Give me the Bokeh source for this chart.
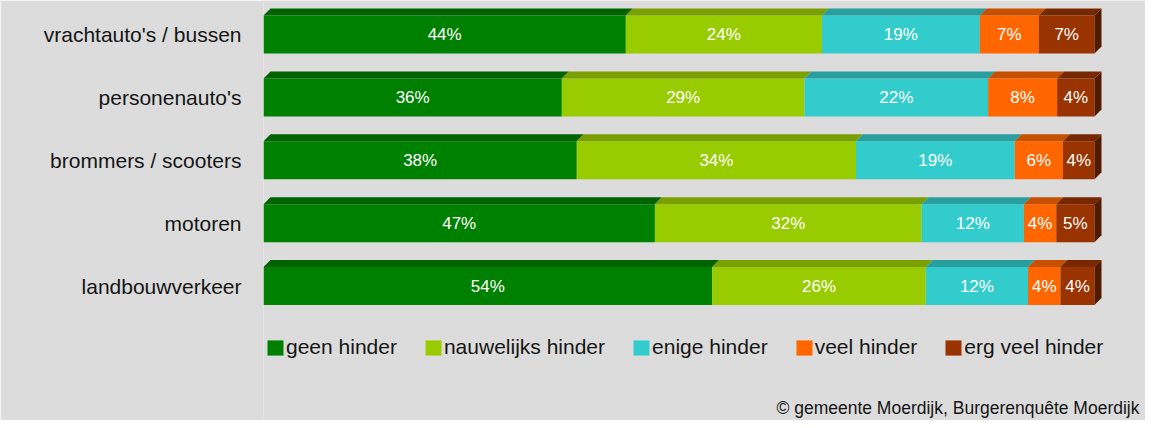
from bokeh.plotting import figure
from bokeh.models import (Range1d, FixedTicker, Label, Legend, LegendItem,
                          ColumnDataSource)
from bokeh.core.properties import value
from bokeh.embed import file_html
from bokeh.resources import INLINE

# ---- data -------------------------------------------------------------
categories = ["vrachtauto's / bussen", "personenauto's", "brommers / scooters",
              "motoren", "landbouwverkeer"]
series = ["geen hinder", "nauwelijks hinder", "enige hinder", "veel hinder",
          "erg veel hinder"]
geen_hinder = [43.6, 35.9, 37.7, 47.1, 54.0]
nauwelijks_hinder = [23.6, 29.2, 33.6, 32.1, 25.7]
enige_hinder = [19.0, 22.1, 19.1, 12.3, 12.3]
veel_hinder = [7.1, 8.3, 5.8, 3.9, 3.9]
erg_veel_hinder = [6.7, 4.5, 3.8, 4.6, 4.1]
labels_pct = [[44, 36, 38, 47, 54], [24, 29, 34, 32, 26], [19, 22, 19, 12, 12],
              [7, 8, 6, 4, 4], [7, 4, 4, 5, 4]]
source_note = "\u00a9 gemeente Moerdijk, Burgerenqu\u00eate Moerdijk"

colors = ["#008000", "#99CC00", "#33CCCC", "#FF6600", "#993300"]
top_colors = ["#006300", "#799F00", "#289E9E", "#C75000", "#772800"]
side_color = "#521B00"
BG = "#DCDCDC"
FONT = "Liberation Sans"

values = [geen_hinder, nauwelijks_hinder, enige_hinder, veel_hinder, erg_veel_hinder]

# ---- geometry (px -> data) --------------------------------------------
W, H = 1145, 420
frame_left_px = 263
bar_px = 831                 # px for 100 %
frame_w = W - frame_left_px
x_end = 100.0 * frame_w / bar_px
pitch = 62.9                 # px between bars
first_center = 34.0          # px from frame top
y_top = -first_center / pitch
y_bot = (H - first_center) / pitch
half = 19.0 / pitch
dx = 7.0 * 100.0 / bar_px
dy = 7.0 / pitch

p = figure(width=W, height=H, output_backend="svg", toolbar_location=None,
           x_range=Range1d(0, x_end), y_range=Range1d(y_bot, y_top),
           x_axis_location=None, min_border_left=frame_left_px,
           min_border_right=0, min_border_top=0, min_border_bottom=0)
p.background_fill_color = BG
p.border_fill_color = BG
p.outline_line_color = None
p.grid.visible = False

ys = list(range(len(categories)))
lefts = [0.0] * len(categories)
bar_renderers = []
for k, vals in enumerate(values):
    rights = [l + v for l, v in zip(lefts, vals)]
    src = ColumnDataSource(dict(y=ys, left=lefts, right=rights,
                                mid=[(l + r) / 2 for l, r in zip(lefts, rights)],
                                txt=[f"{n}%" for n in labels_pct[k]]))
    r = p.hbar(y="y", left="left", right="right", height=2 * half, source=src,
               fill_color=colors[k], line_color=None)
    bar_renderers.append(r)
    # top faces
    txs, tys = [], []
    for yi, l, rr in zip(ys, lefts, rights):
        yt = yi - half
        txs.append([l, rr, rr + dx, l + dx])
        tys.append([yt, yt, yt - dy, yt - dy])
    p.patches(txs, tys, fill_color=top_colors[k], line_color=None)
    p.text(x="mid", y="y", text="txt", source=src, text_color="white",
           text_font=value(FONT), text_font_size="17px", text_align="center",
           text_baseline="middle")
    lefts = rights

# side faces of last segment
sxs, sys = [], []
for yi, rr in zip(ys, lefts):
    sxs.append([rr, rr + dx, rr + dx, rr])
    sys.append([yi - half, yi - half - dy, yi + half - dy, yi + half])
p.patches(sxs, sys, fill_color=side_color, line_color=None)

# y axis with category labels
ax = p.yaxis[0]
ax.ticker = FixedTicker(ticks=ys)
ax.major_label_overrides = {i: c for i, c in enumerate(categories)}
ax.major_tick_line_color = None
ax.minor_tick_line_color = None
ax.axis_line_color = None
ax.major_label_standoff = 16
ax.major_label_text_font = FONT
ax.major_label_text_font_size = "21px"
ax.major_label_text_color = "#151515"

legend = Legend(items=[LegendItem(label=s, renderers=[r])
                       for s, r in zip(series, bar_renderers)],
                orientation="horizontal", location=(2, 61),
                glyph_width=20, glyph_height=19, label_standoff=1, spacing=26,
                padding=0, margin=0, border_line_color=None,
                background_fill_alpha=0, label_text_font=FONT,
                label_text_font_size="21px", label_text_color="#151515")
p.add_layout(legend, "center")

p.add_layout(Label(x=876, y=13, x_units="screen", y_units="screen",
                   text=source_note, text_align="right",
                   text_baseline="alphabetic", text_font=FONT,
                   text_font_size="17.5px", text_color="#151515"))

open("out.html", "w").write(file_html(p, INLINE))
